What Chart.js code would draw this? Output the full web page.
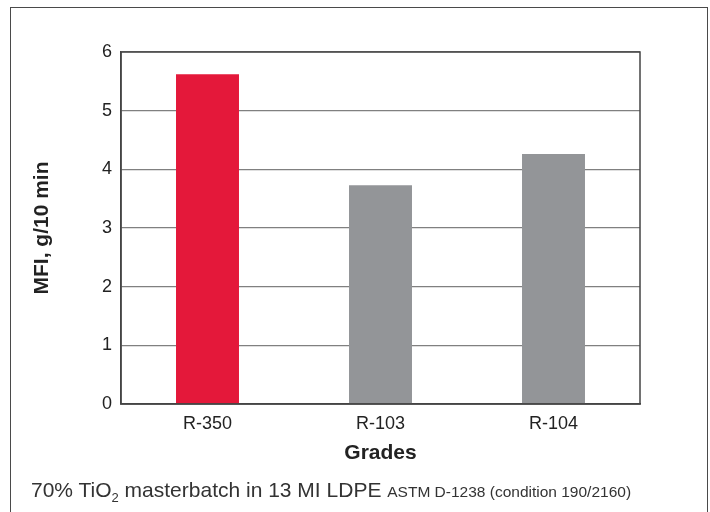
<!DOCTYPE html>
<html>
<head>
<meta charset="utf-8">
<script src="https://cdn.jsdelivr.net/npm/chart.js@4.4.0/dist/chart.umd.min.js"></script>
<style>
  html, body { margin: 0; padding: 0; background: #fff; }
  #wrap { position: relative; width: 710px; height: 512px; overflow: hidden; }
  #frame { position: absolute; left: 10px; top: 7px; width: 698px; height: 530px; border: 1.5px solid #4a4a4a; box-sizing: border-box; }
  canvas { position: absolute; left: 0; top: 0; }
  #caption { position: absolute; left: 31px; top: 478px; font-family: "Liberation Sans", Arial, sans-serif; font-size: 21px; line-height: 24px; color: #333; white-space: nowrap; }
  #caption sub { font-size: 13px; vertical-align: -5px; line-height: 0; }
  #caption small { font-size: 15.5px; }
</style>
</head>
<body>
<div id="wrap">
  <div id="frame"></div>
  <canvas id="c" width="710" height="512"></canvas>
  <div id="caption">70% TiO<sub>2</sub> masterbatch in 13 MI LDPE <small>ASTM D-1238 (condition 190/2160)</small></div>
</div>
<script>
const categories = ["R-350", "R-103", "R-104"];
const mfiValues = [5.62, 3.73, 4.26];
const barColors = ["#E4183A", "#939598", "#939598"];
const yTitle = "MFI, g/10 min";
const xTitle = "Grades";

const frameAround = {
  id: 'frameAround',
  afterDatasetsDraw(chart) {
    const a = chart.chartArea, ctx = chart.ctx;
    ctx.save();
    ctx.strokeStyle = '#444';
    ctx.lineWidth = 1.5;
    ctx.strokeRect(a.left, a.top, a.right - a.left, a.bottom - a.top);
    ctx.restore();
  }
};

new Chart(document.getElementById('c'), {
  type: 'bar',
  data: {
    labels: categories,
    datasets: [{
      data: mfiValues,
      backgroundColor: barColors,
      borderWidth: 0,
      barPercentage: 0.364,
      categoryPercentage: 1
    }]
  },
  options: {
    responsive: false,
    animation: false,
    layout: { padding: { left: 30, top: 52, right: 70, bottom: 46 } },
    plugins: { legend: { display: false }, tooltip: { enabled: false } },
    scales: {
      x: {
        grid: { display: false, drawTicks: false },
        border: { display: true, color: '#444', width: 1.5 },
        ticks: { font: { family: 'Liberation Sans', size: 18 }, color: '#222', padding: 9 },
        title: { display: true, text: xTitle, font: { family: 'Liberation Sans', size: 21, weight: 'bold' }, color: '#222', padding: { top: 0, bottom: 0 } },
        afterFit(s) { s.height = 62; }
      },
      y: {
        min: 0, max: 6,
        grid: { color: '#808080', lineWidth: 1.3, drawTicks: false },
        border: { display: true, color: '#444', width: 1.5 },
        ticks: { stepSize: 1, font: { family: 'Liberation Sans', size: 18 }, color: '#222', padding: 9 },
        title: { display: true, text: yTitle, font: { family: 'Liberation Sans', size: 21, weight: 'bold' }, color: '#222', padding: { top: 0, bottom: 0 } },
        afterFit(s) { s.width = 91; }
      }
    }
  },
  plugins: [frameAround]
});
</script>
</body>
</html>
